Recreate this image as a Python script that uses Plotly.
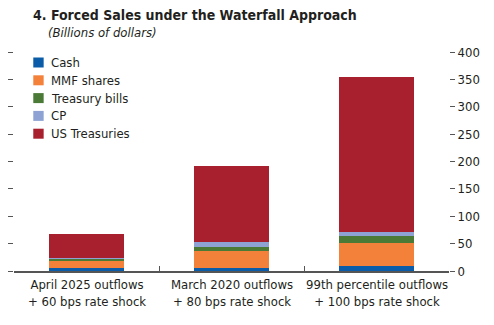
import plotly.graph_objects as go

# Scenario categories (two-line labels) and stacked components, billions of dollars
categories = [
    "April 2025 outflows<br>+ 60 bps rate shock",
    "March 2020 outflows<br>+ 80 bps rate shock",
    "99th percentile outflows<br>+ 100 bps rate shock",
]
cash = [5.5, 6, 10]
mmf_shares = [13.5, 30.5, 42]
treasury_bills = [3.5, 8, 12]
cp = [0.5, 8.5, 8]
us_treasuries = [44, 139, 283]

series = [
    ("Cash", cash, "#0b5ca8"),
    ("MMF shares", mmf_shares, "#f4813a"),
    ("Treasury bills", treasury_bills, "#4b7a36"),
    ("CP", cp, "#8ea3d3"),
    ("US Treasuries", us_treasuries, "#a81f2e"),
]

FONT = "DejaVu Sans Condensed, Liberation Sans Narrow, sans-serif"
TEXT = "#231f20"
AXIS = "#555555"

W, H = 494, 325
ML, MR, MT, MB = 9, 45, 52, 54
PW, PH = W - ML - MR, H - MT - MB


def px_x(x):
    return (x - ML) / PW


def px_y(y):
    return (H - MB - y) / PH


fig = go.Figure()
for name, vals, color in series:
    fig.add_trace(go.Bar(
        x=categories, y=vals, name=name,
        marker=dict(color=color, line=dict(width=0)),
        width=0.52, showlegend=False,
    ))

# invisible trace so the left-hand tick axis is drawn
fig.add_trace(go.Scatter(x=categories, y=[0, 0, 0], yaxis="y2",
                         mode="markers", marker=dict(opacity=0),
                         showlegend=False, hoverinfo="skip"))

fig.update_layout(
    width=W, height=H,
    barmode="stack",
    margin=dict(l=ML, r=MR, t=MT, b=MB),
    paper_bgcolor="white", plot_bgcolor="white",
    font=dict(family=FONT, size=13, color=TEXT),
    showlegend=False,
    xaxis=dict(
        showline=True, linecolor=AXIS, linewidth=1.5,
        ticks="inside", ticklen=5, tickcolor=AXIS,
        tickmode="array", tickvals=[-0.5, 0.5, 1.5, 2.5], ticktext=["", "", "", ""],
        range=[-0.5, 2.5], showgrid=False, zeroline=False,
    ),
    yaxis=dict(
        side="right", range=[0, 400], dtick=50,
        ticks="outside", ticklen=5, tickcolor=AXIS,
        showgrid=False, zeroline=False, showline=False,
        tickfont=dict(size=13, family=FONT, color=TEXT),
    ),
    yaxis2=dict(
        overlaying="y", side="left", range=[0, 400], dtick=50,
        ticks="outside", ticklen=5, tickcolor=AXIS,
        showticklabels=False, showgrid=False, zeroline=False, showline=False,
    ),
)

# category labels under each bar
for i, cat in enumerate(categories):
    fig.add_annotation(x=i, y=0, xref="x", yref="y", yanchor="top",
                       yshift=-4, text=cat, showarrow=False,
                       font=dict(size=13, family=FONT, color=TEXT), align="center")

# legend: colour swatch + label, stacked top to bottom
for k, (name, _, color) in enumerate(series):
    cy = 62.5 + k * 17.8
    fig.add_shape(type="rect", xref="paper", yref="paper",
                  x0=px_x(28.5), x1=px_x(39), y0=px_y(cy + 5), y1=px_y(cy - 5),
                  fillcolor=color, line=dict(width=0))
    fig.add_annotation(x=px_x(44), y=px_y(cy), xref="paper", yref="paper",
                       xanchor="left", yanchor="middle", text=name, showarrow=False,
                       font=dict(size=13, family=FONT, color=TEXT))

fig.add_annotation(
    x=px_x(26), y=px_y(5), xref="paper", yref="paper", xanchor="left", yanchor="top",
    text="<b>4. Forced Sales under the Waterfall Approach</b>",
    showarrow=False, font=dict(size=14, family=FONT, color=TEXT),
)
fig.add_annotation(
    x=px_x(41), y=px_y(23), xref="paper", yref="paper", xanchor="left", yanchor="top",
    text="<i>(Billions of dollars)</i>",
    showarrow=False, font=dict(size=13, family=FONT, color=TEXT),
)

fig.write_html("out.html")
